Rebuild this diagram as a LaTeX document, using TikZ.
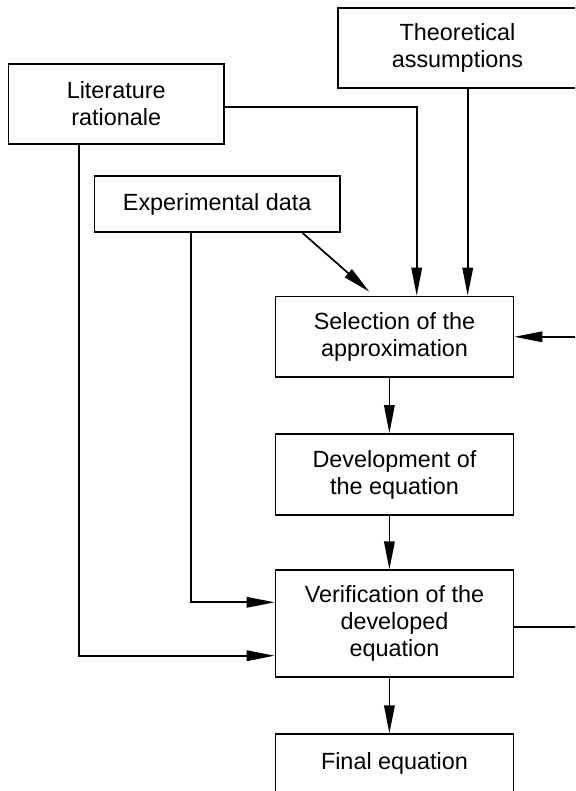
\documentclass[tikz,border=0pt]{standalone}
\usepackage{fontspec}
\setmainfont{Liberation Sans}
\usetikzlibrary{arrows.meta,calc}
\begin{document}
\begin{tikzpicture}[x=1pt,y=-1pt,
  box/.style={draw, line width=1.7pt, inner sep=0pt, align=center,
    font=\fontsize{23.4}{27}\selectfont},
  arr/.style={line width=1.7pt, -{Triangle[length=28pt,width=10.5pt]}}]
\useasboundingbox (0,0) rectangle (575,791);
\clip (0,0) rectangle (575,791);
% column coordinates
\coordinate (cA) at (389.4,0);
\coordinate (cT) at (467.7,0);
\coordinate (cL) at (416.7,0);
\coordinate (cLv) at (79.3,0);
\coordinate (cEv) at (191,0);
% boxes
\node[box, minimum width=239pt, minimum height=80pt] (theo) at (457.5,48.3) {Theoretical\\assumptions};
\node[box, minimum width=215.7pt, minimum height=80pt] (lit) at (116.2,104) {Literature\\rationale};
\node[box, minimum width=245.7pt, minimum height=56.5pt] (exp) at (217.2,204) {Experimental data};
\node[box, minimum width=238pt, minimum height=80.5pt] (sel) at (394.5,336.8) {Selection of the\\approximation};
\node[box, minimum width=238pt, minimum height=81pt] (dev) at (394.5,474.5) {Development of\\the equation};
\node[box, minimum width=238pt, minimum height=107pt] (ver) at (394.5,623.8) {Verification of the\\developed\\equation};
\node[box, minimum width=238pt, minimum height=58pt] (fin) at (394.5,763.3) {Final equation};
% connectors
\draw[arr] ($(lit.east)+(0,2.7)$) -| (cL |- sel.north);
\draw[arr] (cT |- theo.south) -- (cT |- sel.north);
\draw[arr] ($(exp.south)+(85.5,0)$) -- ($(sel.north)+(-25.2,-4)$);
\draw[arr] (cA |- sel.south) -- (cA |- dev.north);
\draw[arr] (cA |- dev.south) -- (cA |- ver.north);
\draw[arr] (cA |- ver.south) -- (cA |- fin.north);
\draw[arr] (cEv |- exp.south) |- ($(ver.west)+(0,-21.5)$);
\draw[arr] (cLv |- lit.south) |- ($(ver.west)+(0,31.9)$);
\draw[arr] ($(ver.east)+(0,2.9)$) -- ++(90,0) |- (sel.east);
\end{tikzpicture}
\end{document}
